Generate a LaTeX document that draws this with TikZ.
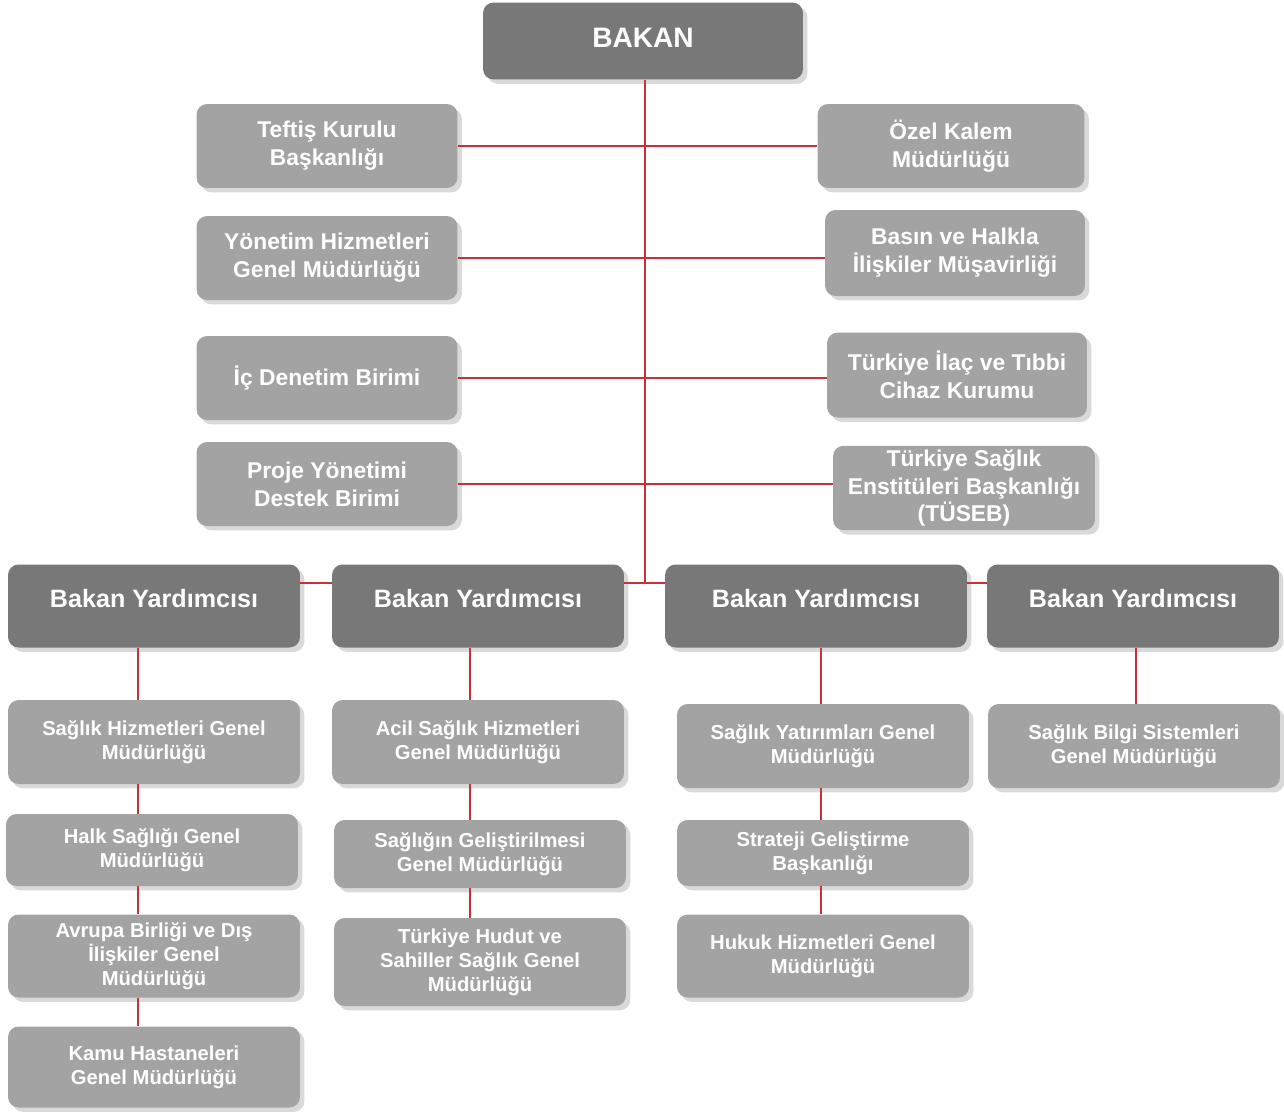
\documentclass[tikz,border=0pt]{standalone}
\usepackage{fontspec}
\setmainfont{Liberation Sans}
\usetikzlibrary{positioning}
\usetikzlibrary{shadows}

\definecolor{cajaosc}{HTML}{787878}
\definecolor{cajacla}{HTML}{A3A3A3}
\definecolor{linea}{HTML}{C8313A}

\tikzset{
  caja/.style={rounded corners=6pt, fill=cajacla, text=white, align=center,
    font=\bfseries\fontsize{13}{15.9}\selectfont, inner sep=2pt,
    minimum width=5.22cm, minimum height=1.68cm,
    drop shadow={shadow xshift=2.5pt, shadow yshift=-2.5pt, opacity=0.3}},
  jefe/.style={caja, fill=cajaosc, minimum width=5.84cm, minimum height=1.66cm,
    font=\bfseries\fontsize{14.3}{17}\selectfont, text depth=9pt},
  unidad/.style={caja, minimum width=5.84cm,
    font=\bfseries\fontsize{11.5}{13.6}\selectfont},
  enlace/.style={draw=linea, line width=0.9pt}
}

\begin{document}
\begin{tikzpicture}[x=0.02cm, y=-0.02cm]
  \useasboundingbox (0,0) rectangle (1284,1113);

  % Puntos de apoyo
  \coordinate (hub) at (645,583);
  \coordinate (col1) at (138,0);
  \coordinate (col2) at (470,0);
  \coordinate (col3) at (821,0);
  \coordinate (col4) at (1136,0);

  % Ministro
  \node[caja, fill=cajaosc, minimum width=6.4cm, minimum height=1.54cm,
    font=\bfseries\fontsize{16}{19}\selectfont, text depth=4pt] (bakan) at (643,41) {BAKAN};

  % Unidades asesoras, lado izquierdo
  \node[caja] (teftis) at (327,146) {Teftiş Kurulu\\Başkanlığı};
  \node[caja] (yonetim) at (327,258) {Yönetim Hizmetleri\\Genel Müdürlüğü};
  \node[caja] (icdenetim) at (327,378) {İç Denetim Birimi};
  \node[caja] (proje) at (327,484) {Proje Yönetimi\\Destek Birimi};

  % Unidades asesoras, lado derecho
  \node[caja, minimum width=5.34cm] (ozel) at (951,146) {Özel Kalem\\Müdürlüğü};
  \node[caja, minimum width=5.2cm, minimum height=1.72cm] (basin) at (955,253) {Basın ve Halkla\\İlişkiler Müşavirliği};
  \node[caja, minimum width=5.2cm, minimum height=1.7cm] (ilac) at (957,375) {Türkiye İlaç ve Tıbbi\\Cihaz Kurumu};
  \node[caja, minimum width=5.24cm] (tuseb) at (964,488) {Türkiye Sağlık\\Enstitüleri Başkanlığı\\(TÜSEB)};

  % Viceministros
  \node[jefe] (by1) at (154,606) {Bakan Yardımcısı};
  \node[jefe] (by2) at (478,606) {Bakan Yardımcısı};
  \node[jefe, minimum width=6.04cm] (by3) at (816,606) {Bakan Yardımcısı};
  \node[jefe] (by4) at (1133,606) {Bakan Yardımcısı};

  % Direcciones generales
  \node[unidad] (c11) at (154,742) {Sağlık Hizmetleri Genel\\Müdürlüğü};
  \node[unidad, minimum height=1.44cm] (c12) at (152,850) {Halk Sağlığı Genel\\Müdürlüğü};
  \node[unidad, minimum height=1.66cm] (c13) at (154,956) {Avrupa Birliği ve Dış\\İlişkiler Genel\\Müdürlüğü};
  \node[unidad, minimum height=1.62cm] (c14) at (154,1067) {Kamu Hastaneleri\\Genel Müdürlüğü};

  \node[unidad] (c21) at (478,742) {Acil Sağlık Hizmetleri\\Genel Müdürlüğü};
  \node[unidad, minimum height=1.36cm] (c22) at (480,854) {Sağlığın Geliştirilmesi\\Genel Müdürlüğü};
  \node[unidad, minimum height=1.76cm] (c23) at (480,962) {Türkiye Hudut ve\\Sahiller Sağlık Genel\\Müdürlüğü};

  \node[unidad] (c31) at (823,746) {Sağlık Yatırımları Genel\\Müdürlüğü};
  \node[unidad, minimum height=1.32cm] (c32) at (823,853) {Strateji Geliştirme\\Başkanlığı};
  \node[unidad, minimum height=1.66cm] (c33) at (823,956) {Hukuk Hizmetleri Genel\\Müdürlüğü};

  \node[unidad] (c41) at (1134,746) {Sağlık Bilgi Sistemleri\\Genel Müdürlüğü};

  % Tronco y ramas
  \draw[enlace] (bakan.south -| hub) -- (hub);
  \draw[enlace] (teftis.east) -- (teftis.east -| ozel.west);
  \draw[enlace] (yonetim.east) -- (yonetim.east -| basin.west);
  \draw[enlace] (icdenetim.east) -- (icdenetim.east -| ilac.west);
  \draw[enlace] (proje.east) -- (proje.east -| tuseb.west);

  \draw[enlace] (by1.east |- hub) -- (by2.west |- hub);
  \draw[enlace] (by2.east |- hub) -- (by3.west |- hub);
  \draw[enlace] (by3.east |- hub) -- (by4.west |- hub);

  % Columnas
  \draw[enlace] (by1.south -| col1) -- (c11.north -| col1)
    (c11.south -| col1) -- (c12.north -| col1)
    (c12.south -| col1) -- (c13.north -| col1)
    (c13.south -| col1) -- (c14.north -| col1);
  \draw[enlace] (by2.south -| col2) -- (c21.north -| col2)
    (c21.south -| col2) -- (c22.north -| col2)
    (c22.south -| col2) -- (c23.north -| col2);
  \draw[enlace] (by3.south -| col3) -- (c31.north -| col3)
    (c31.south -| col3) -- (c32.north -| col3)
    (c32.south -| col3) -- (c33.north -| col3);
  \draw[enlace] (by4.south -| col4) -- (c41.north -| col4);
\end{tikzpicture}
\end{document}
